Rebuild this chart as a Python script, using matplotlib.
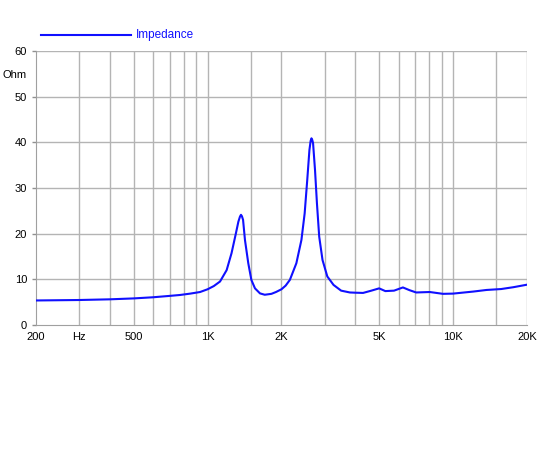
import numpy as np
import matplotlib.pyplot as plt

plt.rcParams['font.family'] = ['Liberation Sans', 'DejaVu Sans']

freq = [200, 300, 400, 500, 600, 700, 772, 850, 932, 1000, 1060, 1124, 1196, 1252, 1305, 1335, 1355, 1368, 1380,
        1395, 1420, 1465, 1508, 1560, 1635, 1710, 1820, 1900, 2000, 2080, 2164, 2300, 2412, 2486, 2547, 2600,
        2630, 2650, 2670, 2690, 2740, 2790, 2850, 2940, 3075, 3260, 3500, 3800, 4000, 4300, 4650, 5000, 5300,
        5750, 6250, 6650, 7080, 8040, 9100, 10000, 12100, 13700, 15700, 17600, 20000]
ohm = [5.35, 5.45, 5.6, 5.8, 6.05, 6.35, 6.55, 6.85, 7.2, 7.8, 8.5, 9.5, 12.0, 15.7, 20.1, 22.6, 23.7, 24.1, 23.8,
       23.0, 18.6, 13.5, 9.85, 8.0, 6.9, 6.6, 6.8, 7.2, 7.8, 8.6, 9.85, 13.5, 18.6, 24.4, 31.7, 38.3,
       40.3, 40.85, 40.5, 39.8, 33.9, 26.6, 19.3, 14.2, 10.6, 8.75, 7.5, 7.1, 7.05, 7.0, 7.5, 8.0, 7.4,
       7.5, 8.2, 7.6, 7.1, 7.2, 6.8, 6.85, 7.3, 7.65, 7.85, 8.25, 8.8]

grid_freqs = [300, 400, 500, 600, 700, 800, 900, 1000, 1500, 2000, 3000, 4000, 5000, 6000, 7000, 8000, 9000,
              10000, 15000, 20000]
xtick_vals = [200, 300, 500, 1000, 2000, 5000, 10000, 20000]
xtick_labels = ['200', 'Hz', '500', '1K', '2K', '5K', '10K', '20K']
ytick_vals = [0, 10, 20, 30, 40, 50, 55, 60]
ytick_labels = ['0', '10', '20', '30', '40', '50', 'Ohm', '60']

fig = plt.figure(figsize=(5.5, 4.5), dpi=100)
ax = fig.add_axes([0.0655, 0.278, 0.8925, 0.609])
ax.set_xscale('log')
ax.set_xlim(200, 20000)
ax.set_ylim(0, 60)

for f in grid_freqs:
    ax.axvline(f, color='#b4b4b4', lw=1, zorder=1)
for v in range(10, 61, 10):
    ax.axhline(v, color='#b4b4b4', lw=1, zorder=1)

line, = ax.plot(freq, ohm, color='#1010ff', lw=1.5, zorder=3, solid_joinstyle='round')

ax.set_xticks(xtick_vals)
ax.set_xticklabels(xtick_labels)
ax.xaxis.set_minor_locator(plt.NullLocator())
ax.set_yticks(ytick_vals)
ax.set_yticklabels(ytick_labels)
ax.tick_params(axis='both', labelsize=8, colors='#909090', labelcolor='black', length=3, width=1)
ax.tick_params(axis='x', length=0, pad=5)
for t in ax.get_yticklines()[12:14]:
    t.set_visible(False)

for s in ['top', 'right']:
    ax.spines[s].set_visible(False)
for s in ['left', 'bottom']:
    ax.spines[s].set_color('#a0a0a0')

fig.lines.append(plt.Line2D([41 / 550, 131 / 550], [1 - 35 / 450, 1 - 35 / 450], color='#1010ff', lw=1.5,
                            transform=fig.transFigure))
fig.text(136 / 550, 1 - 35 / 450, 'Impedance', color='#1010ff', fontsize=8.5, va='center', ha='left')

fig.savefig('out.png', dpi=100)
